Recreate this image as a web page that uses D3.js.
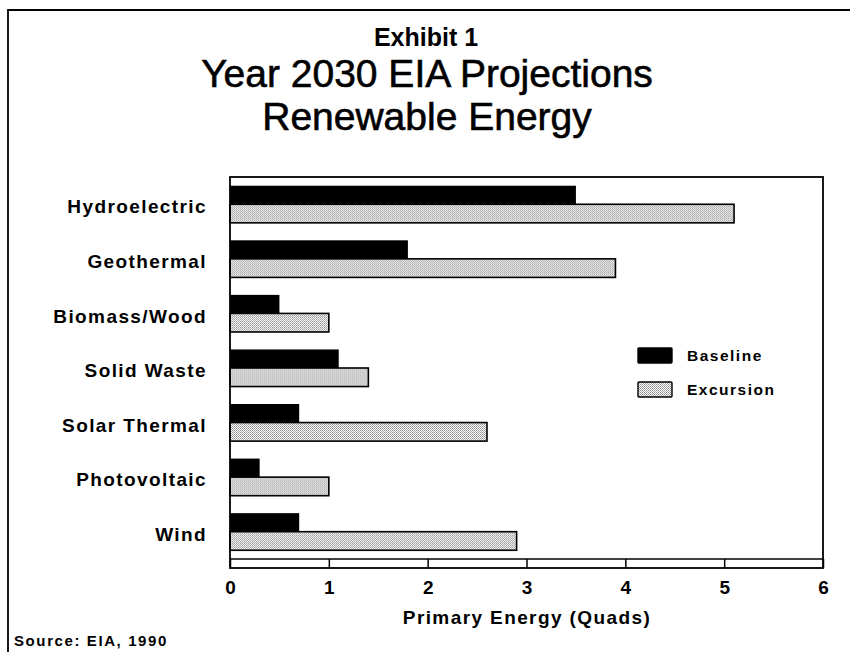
<!DOCTYPE html>
<html>
<head>
<meta charset="utf-8">
<script src="https://cdn.jsdelivr.net/npm/d3@7"></script>
<style>
  html, body { margin: 0; padding: 0; background: #fff; }
  svg { display: block; }
  text { font-family: "Liberation Sans", Arial, Helvetica, sans-serif; fill: #000; }
</style>
</head>
<body>
<svg id="chart" width="850" height="652"></svg>
<script>
const categories = ["Hydroelectric", "Geothermal", "Biomass/Wood", "Solid Waste", "Solar Thermal", "Photovoltaic", "Wind"];
const seriesNames = ["Baseline", "Excursion"];
const baseline = [3.5, 1.8, 0.5, 1.1, 0.7, 0.3, 0.7];
const excursion = [5.1, 3.9, 1.0, 1.4, 2.6, 1.0, 2.9];
const xTicks = [0, 1, 2, 3, 4, 5, 6];
const titleLines = ["Exhibit 1", "Year 2030 EIA Projections", "Renewable Energy"];
const xTitle = "Primary Energy (Quads)";
const sourceText = "Source: EIA, 1990";

(function () {
const svg = d3.select("#chart");
const W = 850, H = 652;
const pLeft = 230, pRight = 823, pTop = 177, plotBottom = 559, stripBottom = 568;

// stipple pattern (fine dither of light grey)
const defs = svg.append("defs");
const pat = defs.append("pattern").attr("id", "stipple")
  .attr("width", 2).attr("height", 2).attr("patternUnits", "userSpaceOnUse");
pat.append("rect").attr("width", 2).attr("height", 2).attr("fill", "#ffffff");
pat.append("rect").attr("x", 0).attr("y", 0).attr("width", 1).attr("height", 1).attr("fill", "#909090");
pat.append("rect").attr("x", 1).attr("y", 1).attr("width", 1).attr("height", 1).attr("fill", "#a8a8a8");

// outer frame (left and top)
svg.append("path").attr("d", `M8,${H} L8,10 L${W},10`)
  .attr("fill", "none").attr("stroke", "#000").attr("stroke-width", 1.8);

// titles
const titleG = svg.append("g").attr("text-anchor", "middle");
titleG.append("text").attr("x", 426).attr("y", 46).attr("font-size", 25).attr("font-weight", "bold").text(titleLines[0]);
titleG.append("text").attr("x", 427).attr("y", 87).attr("font-size", 39)
  .attr("stroke", "#000").attr("stroke-width", 0.6).text(titleLines[1]);
titleG.append("text").attr("x", 427).attr("y", 130).attr("font-size", 39)
  .attr("stroke", "#000").attr("stroke-width", 0.6).text(titleLines[2]);

const x = d3.scaleLinear().domain([0, 6]).range([pLeft, pRight]);
const y = d3.scaleBand().domain(categories).range([pTop, plotBottom]).paddingInner(0.32).paddingOuter(0.16);
const ySub = d3.scaleBand().domain(seriesNames).range([0, y.bandwidth()]);

// bars
const data = categories.map((c, i) => ({ cat: c, values: [baseline[i], excursion[i]] }));
const groups = svg.append("g").selectAll("g").data(data).join("g")
  .attr("transform", d => `translate(0,${y(d.cat)})`);
groups.selectAll("rect").data(d => d.values.map((v, j) => ({ s: seriesNames[j], v })))
  .join("rect")
  .attr("x", x(0))
  .attr("y", d => ySub(d.s))
  .attr("width", d => x(d.v) - x(0))
  .attr("height", ySub.bandwidth())
  .attr("fill", d => d.s === "Baseline" ? "#000" : "url(#stipple)")
  .attr("stroke", "#000")
  .attr("stroke-width", d => d.s === "Baseline" ? 0 : 1.6);

// plot box
svg.append("rect").attr("x", pLeft).attr("y", pTop).attr("width", pRight - pLeft).attr("height", stripBottom - pTop)
  .attr("fill", "none").attr("stroke", "#000").attr("stroke-width", 1.8);
svg.append("line").attr("x1", pLeft).attr("x2", pRight).attr("y1", plotBottom).attr("y2", plotBottom)
  .attr("stroke", "#000").attr("stroke-width", 1.5);

// strip ticks + labels via axis
const xAxis = d3.axisBottom(x).tickValues(xTicks).tickSize(stripBottom - plotBottom).tickPadding(13).tickFormat(d3.format("d"));
const ax = svg.append("g").attr("transform", `translate(0,${plotBottom})`).call(xAxis);
ax.select(".domain").remove();
ax.selectAll(".tick line").attr("stroke", "#000").attr("stroke-width", 1.5);
ax.selectAll(".tick text").attr("font-size", 19).attr("font-weight", "bold")
  .attr("font-family", "Liberation Sans, Arial, sans-serif").attr("fill", "#000");

// category labels
const yAxis = d3.axisLeft(y).tickSize(0).tickPadding(pLeft - 207);
const ay = svg.append("g").attr("transform", `translate(${pLeft},3)`).call(yAxis);
ay.select(".domain").remove();
ay.selectAll(".tick text").attr("font-size", 19).attr("font-weight", "bold")
  .attr("letter-spacing", 1.4)
  .attr("font-family", "Liberation Sans, Arial, sans-serif").attr("fill", "#000");

// x title
svg.append("text").attr("x", 527).attr("y", 624).attr("text-anchor", "middle")
  .attr("font-size", 19).attr("font-weight", "bold").attr("letter-spacing", 1.4).text(xTitle);

// source
svg.append("text").attr("x", 14).attr("y", 646).attr("font-size", 15).attr("font-weight", "bold")
  .attr("letter-spacing", 1.6).text(sourceText);

// legend
const legend = svg.append("g").attr("transform", "translate(638,348)");
const li = legend.selectAll("g").data(seriesNames).join("g")
  .attr("transform", (d, i) => `translate(0,${i * 34})`);
li.append("rect").attr("width", 34).attr("height", 15)
  .attr("fill", d => d === "Baseline" ? "#000" : "url(#stipple)")
  .attr("stroke", "#000").attr("stroke-width", 1.4).attr("rx", 1);
li.append("text").attr("x", 49).attr("y", 13).attr("font-size", 15.5).attr("font-weight", "bold")
  .attr("letter-spacing", 1.5).text(d => d);
})();
</script>
</body>
</html>
